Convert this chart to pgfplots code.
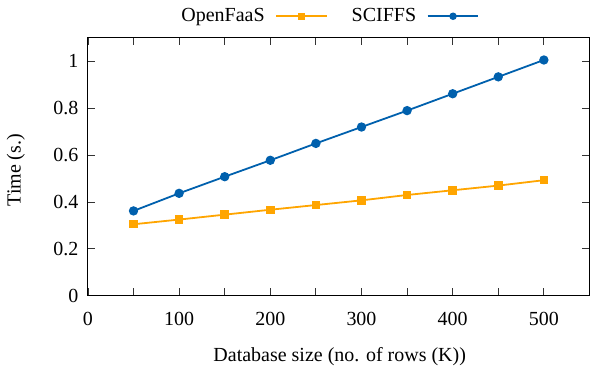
\documentclass[border=0pt]{standalone}
\usepackage{fontspec}
\setmainfont{Liberation Serif}
\usepackage{pgfplots}
\pgfplotsset{compat=1.18}
\definecolor{cOrange}{HTML}{FFA500}
\definecolor{cBlue}{HTML}{0060AD}
\newcommand{\ff}{\fontsize{15}{18}\selectfont}
\begin{document}
\ff
\begin{tikzpicture}[font=\ff]
\begin{axis}[
  scale only axis,
  width=376.5pt, height=193.5pt,
  xmin=0, xmax=550, ymin=0, ymax=1.1,
  xtick={0,100,...,500},
  minor xtick={50,150,...,450},
  xticklabels={0,100,200,300,400,500},
  ytick={0,0.2,...,1.0},
  yticklabels={0,0.2,0.4,0.6,0.8,1},
  tick align=inside,
  major tick length=5.5pt,
  minor tick length=5.5pt,
  tick style={black!80, line width=0.6pt},
  axis line style={line width=0.8pt},
  /pgf/number format/assume math mode=true,
  every tick label/.append style={font=\ff},
  yticklabel style={xshift=-2pt},
  xticklabel style={yshift=-7.5pt},
  xlabel={Database size (no. of rows (K))},
  ylabel={Time (s.)},
  label style={font=\ff},
  xlabel style={at={(axis description cs:0.502,-0.236)}, anchor=center},
  ylabel style={at={(axis description cs:-0.144,0.487)}, anchor=center},
  legend columns=2,
  legend plot pos=right,
  legend style={draw=none, fill=none, at={(axis description cs:0,1)}, anchor=south west,
    xshift=68pt, yshift=8pt, inner sep=0pt, font=\ff, nodes={font=\ff},
    /tikz/every odd column/.append style={column sep=6pt},
    /tikz/every even column/.append style={column sep=16pt}},
  legend image code/.code={\draw[mark repeat=2,mark phase=2,mark size=2.1pt] plot coordinates {(0pt,0pt) (19pt,0pt) (38pt,0pt)};},
]
\addplot[color=cOrange, line width=1.35pt, mark=square*, mark size=2.5pt, mark options={solid}] coordinates {
(50,0.305) (100,0.325) (150,0.346) (200,0.367) (250,0.387) (300,0.407) (350,0.430) (400,0.450) (450,0.470) (500,0.493)};
\addlegendentry{OpenFaaS}
\addplot[color=cBlue, line width=1.35pt, mark=*, mark size=2.8pt, mark options={solid}] coordinates {
(50,0.362) (100,0.437) (150,0.508) (200,0.578) (250,0.650) (300,0.720) (350,0.790) (400,0.862) (450,0.934) (500,1.006)};
\addlegendentry{SCIFFS}
\end{axis}
\pgfresetboundingbox
\path[use as bounding box] ([xshift=-66pt,yshift=-55.5pt]current axis.south west) rectangle ([xshift=0.4pt,yshift=28.5pt]current axis.north east);
\end{tikzpicture}
\end{document}
